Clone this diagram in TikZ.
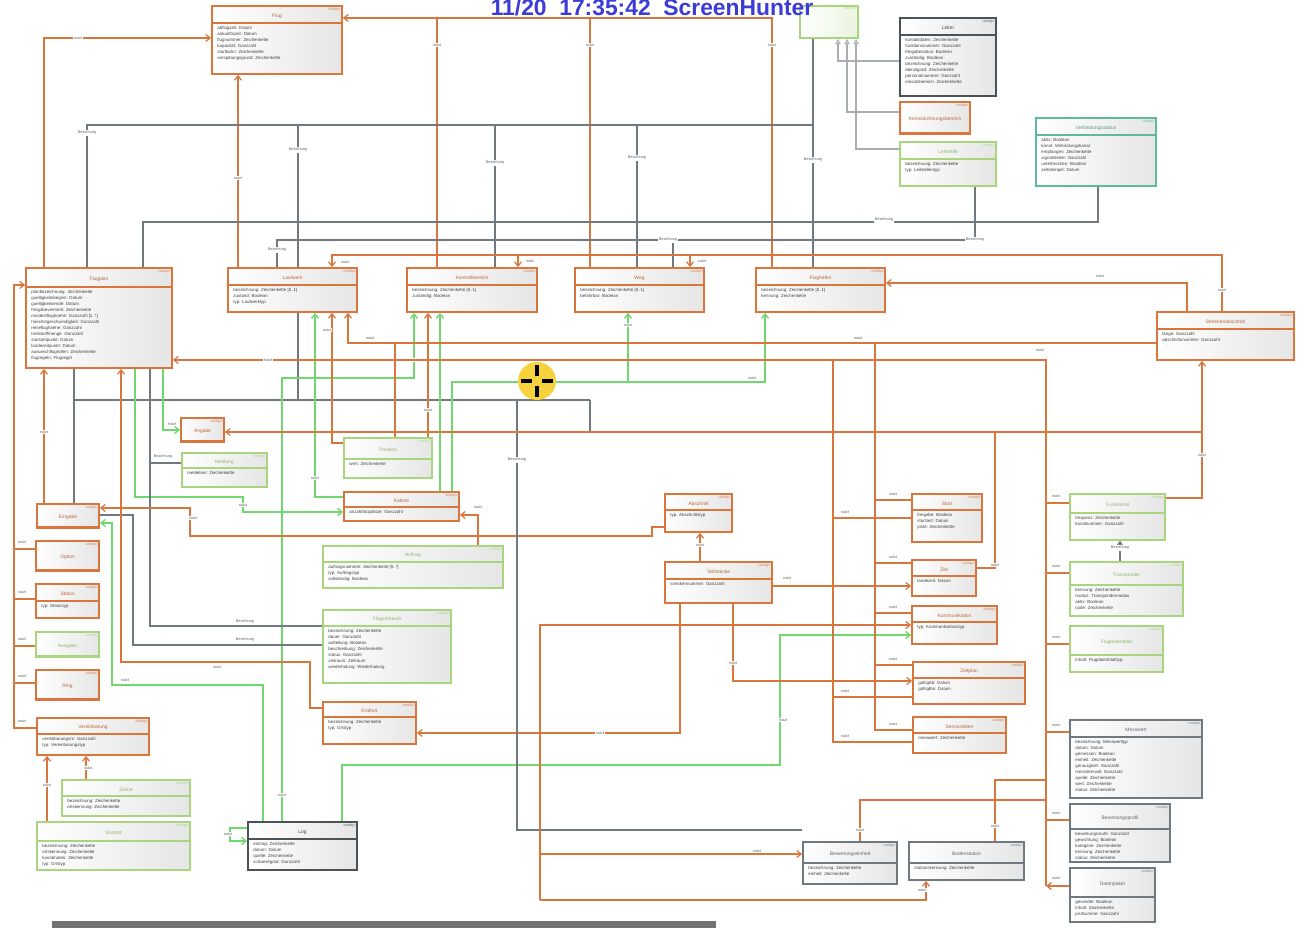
\documentclass[tikz,border=0pt]{standalone}
\usepackage{fontspec}
\setmainfont{Liberation Sans}
\usetikzlibrary{arrows.meta,calc,fit}
\definecolor{oc}{HTML}{D9763E}
\definecolor{gc}{HTML}{A9D57F}
\definecolor{gl}{HTML}{6FD86F}
\definecolor{grc}{HTML}{707880}
\definecolor{lgr}{HTML}{A8AEB4}
\definecolor{tc}{HTML}{5DBB9A}
\definecolor{dc}{HTML}{4A525A}
\definecolor{bl}{HTML}{3B3BD6}
\definecolor{cy}{HTML}{F6D33C}
\tikzset{
  clsbox/.style={draw=#1, line width=1pt, left color=white, right color=black!10, inner sep=0pt},
  stereo/.style={font=\fontsize{2}{2.4}\selectfont, text=#1, inner sep=0pt},
  clsname/.style={font=\fontsize{2.8}{3.2}\selectfont, text=#1!85!black, inner sep=0pt},
  attr/.style={font=\fontsize{2.5}{3.4}\selectfont, align=left, inner sep=0pt, text=black!75},
  orl/.style={draw=oc, line width=0.7pt},
  gyl/.style={draw=grc, line width=0.6pt},
  lgl/.style={draw=lgr, line width=0.6pt},
  gnl/.style={draw=gl, line width=0.8pt},
  lbl/.style={font=\fontsize{2.2}{2.6}\selectfont, fill=white, inner sep=0.4pt, text=black!60},
  >={Straight Barb[length=2.5pt,width=4pt]},
}
\newcounter{lb}
\newcommand{\lab}[3]{\stepcounter{lb}\node[lbl] (lab\arabic{lb}) at (#1,#2) {#3};}
\newcommand{\cls}[9]{%
  \node[clsbox=#6, fit={(#2,#3) (#4,#5)}] (#1) {};
  \draw[#6, line width=0.8pt] ($(#1.north west)+(0,#8)$) -- ($(#1.north east)+(0,#8)$);
  \node[stereo=#6, anchor=north east] (#1-s) at ($(#1.north east)+(-2,2)$) {«entity»};
  \node[clsname=#6] (#1-n) at ($(#1.north)+(0,{0.55*#8+1})$) {#7};
  \node[attr, anchor=north west] (#1-a) at ($(#1.north west)+(6,#8+3)$) {#9};
}
\begin{document}
\begin{tikzpicture}[x=0.02cm,y=-0.02cm]
\useasboundingbox (0,0) rectangle (1306,932);
\fill[white] (0,0) rectangle (1306,932);

% ---------- classes ----------
\cls{b1}{212}{6}{342}{74}{oc}{Flug}{18}{abflugzeit: Datum\\ankunftszeit: Datum\\flugnummer: Zeichenkette\\kapazität: Ganzzahl\\startbahn: Zeichenkette\\verspätungsgrund: Zeichenkette}
\node[draw=gc, line width=1pt, left color=white, right color=gc!25, inner sep=0pt, fit={(800,6) (858,38)}] (b2) {};
\node[stereo=gc, anchor=north east] (b2-s) at ($(b2.north east)+(-2,2)$) {«enum»};
\cls{b3}{900}{18}{996}{96}{dc}{Leiter}{18}{kontaktdaten: Zeichenkette\\funktionsnummer: Ganzzahl\\freigabestatus: Boolean\\zuständig: Boolean\\bezeichnung: Zeichenkette\\dienstgrad: Zeichenkette\\personalnummer: Ganzzahl\\einsatzbereich: Zeichenkette}
\cls{b4}{900}{102}{970}{134}{oc}{Kennzeichnungsbereich}{32}{}
\cls{b5}{900}{142}{996}{186}{gc}{Leitstelle}{18}{bezeichnung: Zeichenkette\\typ: Leitstellentyp}
\cls{b6}{1036}{118}{1156}{186}{tc}{Verbindungsstatus}{18}{aktiv: Boolean\\kanal: Verbindungskanal\\empfangen: Zeichenkette\\signalstärke: Ganzzahl\\unterbrochen: Boolean\\zeitstempel: Datum}
\cls{b7}{26}{268}{172}{368}{oc}{Flugplan}{20}{planbezeichnung: Zeichenkette\\gueltigkeitsbeginn: Datum\\gueltigkeitsende: Datum\\freigabevermerk: Zeichenkette\\mindestflughoehe: Ganzzahl [1..*]\\hoechstgeschwindigkeit: Ganzzahl\\reiseflughoehe: Ganzzahl\\treibstoffmenge: Ganzzahl\\startzeitpunkt: Datum\\landezeitpunkt: Datum\\ausweichflughafen: Zeichenkette\\flugregeln: Flugregel}
\cls{b8}{228}{268}{357}{312}{oc}{Laufwerk}{18}{bezeichnung: Zeichenkette [0..1]\\zustand: Boolean\\typ: Laufwerktyp}
\cls{b9}{407}{268}{537}{312}{oc}{Kontrollbereich}{18}{bezeichnung: Zeichenkette [0..1]\\zuständig: Boolean}
\cls{b10}{575}{268}{704}{312}{oc}{Weg}{18}{bezeichnung: Zeichenkette [0..1]\\befahrbar: Boolean}
\cls{b11}{756}{268}{885}{312}{oc}{Flughafen}{18}{bezeichnung: Zeichenkette [0..1]\\kennung: Zeichenkette}
\cls{b12}{1157}{312}{1294}{360}{oc}{Streckenabschnitt}{18}{länge: Ganzzahl\\abschnittsnummer: Ganzzahl}
\cls{b13}{181}{418}{224}{442}{oc}{Angabe}{24}{}
\cls{b14}{182}{453}{267}{487}{gc}{Meldung}{16}{meldetext: Zeichenkette}
\cls{b15}{37}{504}{99}{528}{oc}{Eingabe}{24}{}
\cls{b16}{36}{541}{99}{571}{oc}{Option}{30}{}
\cls{b17}{36}{584}{99}{618}{oc}{Status}{18}{typ: Statustyp}
\cls{b18}{36}{632}{99}{657}{gc}{Ausgabe}{25}{}
\cls{b19}{36}{670}{99}{700}{oc}{Ring}{30}{}
\cls{b20}{37}{718}{149}{755}{oc}{Vereinbarung}{17}{vereinbarungsnr: Ganzzahl\\typ: Vereinbarungstyp}
\cls{b21}{344}{438}{432}{478}{gc}{Position}{22}{wert: Zeichenkette}
\cls{b22}{344}{492}{459}{521}{oc}{Kabine}{16}{anzahlSitzplätze: Ganzzahl}
\cls{b23}{323}{546}{503}{588}{gc}{Auftrag}{17}{auftragsnummer: Zeichenkette [0..*]\\typ: Auftragstyp\\vollständig: Boolean}
\cls{b24}{323}{610}{451}{683}{gc}{Flugzeitraum}{17}{bezeichnung: Zeichenkette\\dauer: Ganzzahl\\aufteilung: Boolean\\beschreibung: Zeichenkette\\status: Ganzzahl\\zeitraum: Zeitraum\\wiederholung: Wiederholung}
\cls{b25}{323}{702}{416}{744}{oc}{Kraftort}{16}{bezeichnung: Zeichenkette\\typ: Ortstyp}
\cls{b26}{62}{780}{190}{816}{gc}{Zielort}{17}{bezeichnung: Zeichenkette\\ortskennung: Zeichenkette}
\cls{b27}{37}{822}{190}{870}{gc}{Startort}{20}{bezeichnung: Zeichenkette\\ortskennung: Zeichenkette\\koordinaten: Zeichenkette\\typ: Ortstyp}
\cls{b28}{248}{822}{357}{870}{dc}{Log}{18}{eintrag: Zeichenkette\\datum: Datum\\quelle: Zeichenkette\\schweregrad: Ganzzahl}
\cls{b29}{665}{494}{732}{532}{oc}{Abschnitt}{17}{typ: Abschnittstyp}
\cls{b30}{665}{562}{772}{603}{oc}{Teilstrecke}{18}{streckennummer: Ganzzahl}
\cls{b31}{912}{494}{982}{542}{oc}{Start}{17}{freigabe: Boolean\\startzeit: Datum\\piste: Zeichenkette}
\cls{b32}{912}{560}{976}{596}{oc}{Ziel}{17}{landezeit: Datum}
\cls{b33}{912}{606}{997}{644}{oc}{Kommunikation}{17}{typ: Kommunikationstyp}
\cls{b34}{913}{662}{1025}{704}{oc}{Zeitplan}{17}{gültigAb: Datum\\gültigBis: Datum}
\cls{b35}{913}{717}{1006}{753}{oc}{Sensordaten}{17}{messwert: Zeichenkette}
\cls{b36}{1070}{494}{1165}{540}{gc}{Funkkanal}{20}{frequenz: Zeichenkette\\kanalnummer: Ganzzahl}
\cls{b37}{1070}{562}{1183}{616}{gc}{Transponder}{24}{kennung: Zeichenkette\\modus: Transpondermodus\\aktiv: Boolean\\code: Zeichenkette}
\cls{b38}{1070}{626}{1163}{672}{gc}{Flugdatenblatt}{30}{inhalt: Flugdatenblatttyp}
\cls{b39}{1070}{720}{1202}{798}{grc}{Messwert}{18}{bezeichnung: Messwerttyp\\datum: Datum\\gemessen: Boolean\\einheit: Zeichenkette\\genauigkeit: Ganzzahl\\messintervall: Ganzzahl\\quelle: Zeichenkette\\wert: Zeichenkette\\status: Zeichenkette}
\cls{b40}{1070}{804}{1170}{862}{grc}{Bewertungsprofil}{26}{bewertungsstufe: Ganzzahl\\gewichtung: Boolean\\kategorie: Zeichenkette\\kennung: Zeichenkette\\status: Zeichenkette}
\cls{b41}{1070}{868}{1155}{922}{grc}{Datenpaket}{30}{gesendet: Boolean\\inhalt: Zeichenkette\\prüfsumme: Ganzzahl}
\cls{b42}{803}{842}{897}{884}{grc}{Bewertungseinheit}{22}{bezeichnung: Zeichenkette\\einheit: Zeichenkette}
\cls{b43}{909}{842}{1024}{880}{grc}{Bodenstation}{22}{stationskennung: Zeichenkette}

% ---------- top area ----------
\coordinate (t1) at (437,18); \coordinate (t2) at (590,18);
\draw[orl,->] (b11.north -| 772,0) -- (772,18) -- (b1.east |- 0,18);
\draw[orl] (t1) -- (b9.north -| t1);
\draw[orl] (t2) -- (b10.north -| t2);
\lab{437}{45}{nutzt}\lab{590}{45}{nutzt}\lab{772}{45}{nutzt}
\draw[orl,->] (b7.north -| 44,0) -- (44,38) -- (b1.west |- 0,38); \lab{78}{38}{nutzt}
\draw[orl,->] (b8.north -| 238,0) -- (b1.south -| 238,0); \lab{238}{178}{nutzt}

\coordinate (g1) at (813,125);
\draw[gyl] (b2.south -| 813,0) -- (b11.north -| 813,0);
\draw[gyl] (g1) -- (87,125) -- (b7.north -| 87,0);
\draw[gyl] (298,125) -- (b8.north -| 298,0);
\draw[gyl] (495,125) -- (b9.north -| 495,0);
\draw[gyl] (637,125) -- (b10.north -| 637,0);
\lab{87}{133}{Beziehung}\lab{298}{150}{Beziehung}\lab{495}{163}{Beziehung}\lab{637}{158}{Beziehung}\lab{813}{160}{Beziehung}

\draw[lgl,-{Triangle[open,length=3pt,width=3pt]}] (b3.west |- 0,61) -- (838,61) -- (b2.south -| 838,0);
\draw[lgl,-{Triangle[open,length=3pt,width=3pt]}] (b4.west |- 0,112) -- (847,112) -- (b2.south -| 847,0);
\draw[lgl,-{Triangle[open,length=3pt,width=3pt]}] (b5.west |- 0,149) -- (856,149) -- (b2.south -| 856,0);

\draw[gyl] (b6.south -| 1098,0) -- (1098,222) -- (143,222) -- (b7.north -| 143,0); \lab{884}{220}{Beziehung}
\draw[gyl] (b5.south -| 975,0) -- (975,240) -- (277,240) -- (b8.north -| 277,0);
\draw[gyl] (673,240) -- (b10.north -| 673,0);
\lab{975}{240}{Beziehung}\lab{668}{240}{Beziehung}\lab{277}{250}{Beziehung}

\draw[orl,->] (b12.north -| 1222,0) -- (1222,255) -- (332,255) -- (b8.north -| 332,0);
\draw[orl,->] (518,255) -- (b9.north -| 518,0);
\draw[orl,->] (690,255) -- (b10.north -| 690,0);
\lab{1222}{290}{nutzt}\lab{345}{262}{nutzt}\lab{530}{261}{nutzt}\lab{702}{261}{nutzt}
\draw[orl,->] (b12.north -| 1187,0) -- (1187,283) -- (b11.east |- 0,283); \lab{1100}{276}{nutzt}

% ---------- left column ----------
\draw[orl,->] (b20.west |- 0,728) -- (14,728) -- (14,285) -- (b7.west |- 0,285);
\draw[orl] (14,549) -- (b16.west |- 0,549);
\draw[orl] (14,599) -- (b17.west |- 0,599);
\draw[orl] (14,646) -- (b18.west |- 0,646);
\draw[orl] (14,683) -- (b19.west |- 0,683);
\lab{22}{542}{nutzt}\lab{22}{592}{nutzt}\lab{22}{639}{nutzt}\lab{22}{676}{nutzt}\lab{22}{721}{nutzt}
\draw[orl,->] (b15.north -| 44,0) -- (b7.south -| 44,0); \lab{44}{432}{nutzt}
\draw[gyl] (b7.south -| 74,0) -- (b15.north -| 74,0);
\draw[gyl] (74,400) -- (590,400);
\draw[gyl] (b8.south -| 298,0) -- (298,400);
\draw[orl,->] (b27.north -| 47,0) -- (b20.south -| 47,0); \lab{47}{785}{nutzt}
\draw[orl,->] (b26.north -| 86,0) -- (b20.south -| 86,0); \lab{88}{768}{nutzt}
\draw[gnl,->] (b7.south -| 163,0) -- (163,430) -- (b13.west |- 0,430); \lab{172}{424}{nutzt}
\draw[gnl,->] (b7.south -| 135,0) -- (135,497) -- (243,497) -- (243,512) -- (b22.west |- 0,512); \lab{243}{505}{nutzt}
\draw[gnl,->] (b28.north -| 263,0) -- (263,685) -- (112,685) -- (112,523) -- (b15.east |- 0,523); \lab{125}{680}{nutzt}
\draw[gnl,->] (b28.north -| 282,0) -- (282,378) -- (414,378) -- (b9.south -| 414,0); \lab{282}{795}{nutzt}\lab{414}{360}{nutzt}
\draw[gnl,->] (b28.west |- 0,828) -- (230,828) -- (230,841) -- (b28.west |- 0,841); \lab{228}{834}{nutzt}
\draw[gyl] (b7.south -| 150,0) -- (150,626) -- (b24.west |- 0,626); \lab{245}{622}{Beziehung}
\draw[gyl] (b15.east |- 0,515) -- (133,515) -- (133,645) -- (b24.west |- 0,645); \lab{245}{640}{Beziehung}
\draw[orl,->] (b25.west |- 0,708) -- (310,708) -- (310,662) -- (121,662) -- (b7.south -| 121,0); \lab{217}{667}{nutzt}
\draw[orl,->] (b29.west |- 0,527) -- (652,527) -- (652,536) -- (190,536) -- (190,508) -- (b15.east |- 0,508); \lab{193}{518}{nutzt}
\draw[gyl] (b14.west |- 0,463) -- (150,463); \lab{163}{457}{Beziehung}

% ---------- middle ----------
\draw[orl,->] (b21.west |- 0,443) -- (332,443) -- (b8.south -| 332,0); \lab{327}{330}{nutzt}
\draw[orl,->] (b21.north -| 428,0) -- (b9.south -| 428,0); \lab{428}{410}{nutzt}
\draw[orl] (b21.north -| 395,0) -- (395,343);
\draw[gnl,->] (b22.west |- 0,497) -- (315,497) -- (b8.south -| 315,0); \lab{315}{478}{nutzt}
\draw[gnl,->] (b22.north -| 440,0) -- (b9.south -| 440,0);
\draw[gnl,->] (b22.north -| 452,0) -- (452,382) -- (765,382) -- (b11.south -| 765,0);
\draw[gnl,->] (628,382) -- (b10.south -| 628,0); \lab{628}{325}{nutzt}\lab{752}{378}{nutzt}
\draw[orl,->] (b23.north -| 478,0) -- (478,515) -- (b22.east |- 0,515); \lab{478}{507}{nutzt}
\draw[orl,<-] (b8.south -| 348,0) -- (348,343) -- (b12.west |- 0,343); \lab{370}{338}{nutzt}\lab{858}{338}{nutzt}
\draw[orl,->] (1046,886) -- (1046,360) -- (b7.east |- 0,360); \lab{268}{360}{nutzt}\lab{1040}{350}{nutzt}
\draw[gnl,->] (b28.north -| 342,0) -- (342,765) -- (780,765) -- (780,635) -- (b33.west |- 0,635); \lab{783}{720}{nutzt}
\draw[orl,->] (b30.south -| 680,0) -- (680,733) -- (b25.east |- 0,733); \lab{600}{733}{nutzt}
\draw[gyl] (517,400) -- (517,830) -- (b42.west |- 0,830); \lab{517}{460}{Beziehung}
\draw[gyl] (590,400) -- (590,432);

% ---------- right middle ----------
\draw[orl,->] (b30.north -| 700,0) -- (b29.south -| 700,0); \lab{700}{545}{nutzt}
\draw[orl,->] (b30.east |- 0,586) -- (b32.west |- 0,586); \lab{787}{578}{nutzt}
\draw[orl,->] (b30.south -| 733,0) -- (733,681) -- (b34.west |- 0,681); \lab{733}{663}{nutzt}
\draw[orl] (875,343) -- (875,730) -- (b35.west |- 0,730);
\draw[orl] (875,500) -- (b31.west |- 0,500);
\draw[orl] (875,563) -- (b32.west |- 0,563);
\draw[orl] (875,613) -- (b33.west |- 0,613);
\draw[orl] (875,665) -- (b34.west |- 0,665);
\lab{893}{494}{nutzt}\lab{893}{557}{nutzt}\lab{893}{607}{nutzt}\lab{893}{659}{nutzt}\lab{893}{724}{nutzt}
\draw[orl] (833,360) -- (833,742) -- (b35.west |- 0,742);
\draw[orl] (833,518) -- (b31.west |- 0,518);
\draw[orl] (833,697) -- (b34.west |- 0,697);
\lab{845}{512}{nutzt}\lab{845}{691}{nutzt}\lab{845}{736}{nutzt}
\draw[orl,->] (540,900) -- (540,625) -- (b33.west |- 0,625);
\draw[orl,->] (540,900) -- (926,900) -- (b43.south -| 926,0); \lab{922}{890}{nutzt}
\draw[orl,->] (540,854) -- (b42.west |- 0,854); \lab{757}{851}{nutzt}
\draw[orl] (b42.north -| 860,0) -- (860,800) -- (1046,800); \lab{860}{830}{nutzt}
\draw[orl] (b43.north -| 995,0) -- (995,780) -- (1046,780); \lab{995}{826}{nutzt}
\draw[orl,->] (b32.east |- 0,568) -- (995,568) -- (995,432) -- (b13.east |- 0,432); \lab{995}{565}{nutzt}
\draw[orl] (995,432) -- (1202,432);

% ---------- right column ----------
\draw[orl,->] (b41.west |- 0,886) -- (1046,886);
\draw[orl] (1046,503) -- (b36.west |- 0,503);
\draw[orl] (1046,573) -- (b37.west |- 0,573);
\draw[orl] (1046,644) -- (b38.west |- 0,644);
\draw[orl] (1046,732) -- (b39.west |- 0,732);
\draw[orl] (1046,820) -- (b40.west |- 0,820);
\lab{1056}{496}{nutzt}\lab{1056}{566}{nutzt}\lab{1056}{637}{nutzt}\lab{1056}{725}{nutzt}\lab{1056}{813}{nutzt}\lab{1056}{878}{nutzt}
\draw[orl,->] (b36.east |- 0,498) -- (1202,498) -- (b12.south -| 1202,0); \lab{1202}{455}{nutzt}
\draw[gyl,->] (b37.north -| 1120,0) -- (b36.south -| 1120,0); \lab{1120}{548}{Beziehung}

% ---------- decorations ----------
\node[font=\bfseries\fontsize{13}{13}\selectfont, text=bl, anchor=base] (title) at (652,16) {11/20\ \ 17:35:42\ \ ScreenHunter};
\fill[cy] (537,381) circle (19);
\draw[line width=2pt, black] (521,381) -- (532,381) (542,381) -- (553,381) (537,365) -- (537,376) (537,386) -- (537,397);
\fill[black!55] (52,921) rectangle (716,928);
\end{tikzpicture}
\end{document}
